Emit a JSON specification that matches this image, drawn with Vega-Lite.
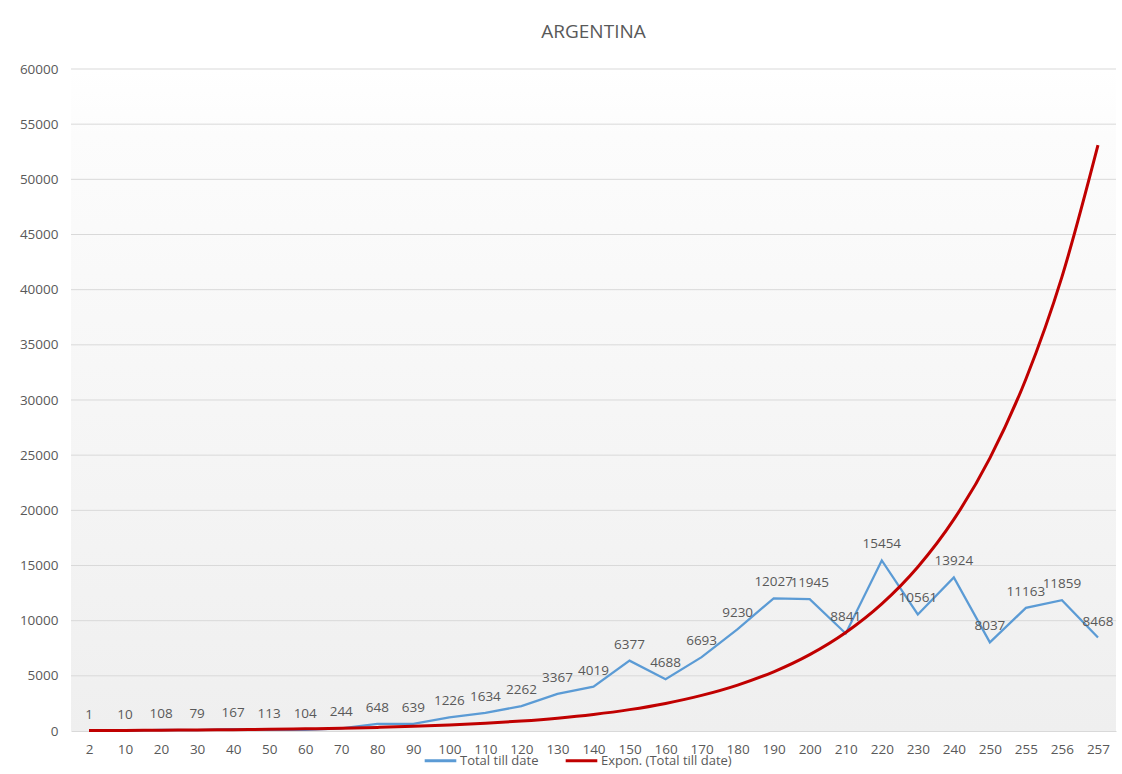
{
  "$schema": "https://vega.github.io/schema/vega-lite/v6.json",
  "width": 1045,
  "height": 662,
  "autosize": {"type": "none"},
  "padding": {"left": 71, "top": 69, "right": 6, "bottom": 43},
  "background": "white",
  "title": {"text": "ARGENTINA", "color": "#595959", "fontSize": 19, "font": "Open Sans", "fontWeight": "normal", "offset": 20, "anchor": "middle"},
  "config": {
    "view": {"stroke": null},
    "font": "Open Sans",
    "axis": {"labelColor": "#595959", "labelFontSize": 13.5, "titleColor": "#595959", "domain": false, "ticks": false, "grid": false, "labelOverlap": false}
  },
  "data": {"values": [
    {"day": "2", "total": 1, "trend": 43},
    {"day": "10", "total": 10, "trend": 55},
    {"day": "20", "total": 108, "trend": 71},
    {"day": "30", "total": 79, "trend": 91},
    {"day": "40", "total": 167, "trend": 118},
    {"day": "50", "total": 113, "trend": 152},
    {"day": "60", "total": 104, "trend": 196},
    {"day": "70", "total": 244, "trend": 253},
    {"day": "80", "total": 648, "trend": 326},
    {"day": "90", "total": 639, "trend": 421},
    {"day": "100", "total": 1226, "trend": 543},
    {"day": "110", "total": 1634, "trend": 700},
    {"day": "120", "total": 2262, "trend": 903},
    {"day": "130", "total": 3367, "trend": 1165},
    {"day": "140", "total": 4019, "trend": 1503},
    {"day": "150", "total": 6377, "trend": 1938},
    {"day": "160", "total": 4688, "trend": 2501},
    {"day": "170", "total": 6693, "trend": 3226},
    {"day": "180", "total": 9230, "trend": 4161},
    {"day": "190", "total": 12027, "trend": 5368},
    {"day": "200", "total": 11945, "trend": 6925},
    {"day": "210", "total": 8841, "trend": 8933},
    {"day": "220", "total": 15454, "trend": 11523},
    {"day": "230", "total": 10561, "trend": 14865},
    {"day": "240", "total": 13924, "trend": 19175},
    {"day": "250", "total": 8037, "trend": 24736},
    {"day": "255", "total": 11163, "trend": 31909},
    {"day": "256", "total": 11859, "trend": 41163},
    {"day": "257", "total": 8468, "trend": 53100}
  ]},
  "layer": [
    {
      "mark": {"type": "rect", "color": {"gradient": "linear", "x1": 0, "y1": 0, "x2": 0, "y2": 1, "stops": [{"offset": 0, "color": "#ffffff"}, {"offset": 0.1, "color": "#fcfcfc"}, {"offset": 1, "color": "#efefef"}]}},
      "encoding": {
        "y": {"datum": 0, "type": "quantitative"},
        "y2": {"datum": 60000}
      }
    },
    {
      "mark": {"type": "rule", "color": "#d9d9d9", "strokeWidth": 1},
      "data": {"values": [{"v": 5000}, {"v": 10000}, {"v": 15000}, {"v": 20000}, {"v": 25000}, {"v": 30000}, {"v": 35000}, {"v": 40000}, {"v": 45000}, {"v": 50000}, {"v": 55000}, {"v": 60000}]},
      "encoding": {"y": {"field": "v", "type": "quantitative"}}
    },
    {
      "mark": {"type": "line", "strokeWidth": 2.25, "clip": false},
      "encoding": {
        "x": {"field": "day", "type": "ordinal", "sort": null, "scale": {"type": "point", "padding": 0.5}, "axis": {"title": null, "labelAngle": 0, "domain": true, "domainColor": "#d9d9d9", "labelPadding": 11}},
        "y": {"field": "total", "type": "quantitative", "scale": {"domain": [0, 60000]}, "axis": {"title": null, "values": [0, 5000, 10000, 15000, 20000, 25000, 30000, 35000, 40000, 45000, 50000, 55000, 60000], "format": "d", "labelPadding": 13}},
        "color": {"datum": "Total till date", "type": "nominal", "scale": {"domain": ["Total till date", "Expon. (Total till date)"], "range": ["#5b9bd5", "#c00000"]}, "legend": {"title": null, "orient": "none", "legendX": 352, "legendY": 674, "direction": "horizontal", "symbolType": "stroke", "symbolStrokeWidth": 3, "symbolSize": 1000, "labelFontSize": 13, "labelColor": "#595959", "labelOffset": 2, "columnPadding": 20}}
      }
    },
    {
      "mark": {"type": "text", "baseline": "bottom", "dy": -9, "fontSize": 13.5, "color": "#595959"},
      "encoding": {
        "x": {"field": "day", "type": "ordinal", "sort": null},
        "y": {"field": "total", "type": "quantitative"},
        "text": {"field": "total", "type": "quantitative", "format": "d"}
      }
    },
    {
      "mark": {"type": "line", "strokeWidth": 3, "interpolate": "monotone"},
      "encoding": {
        "x": {"field": "day", "type": "ordinal", "sort": null},
        "y": {"field": "trend", "type": "quantitative"},
        "color": {"datum": "Expon. (Total till date)", "type": "nominal"}
      }
    }
  ]
}
